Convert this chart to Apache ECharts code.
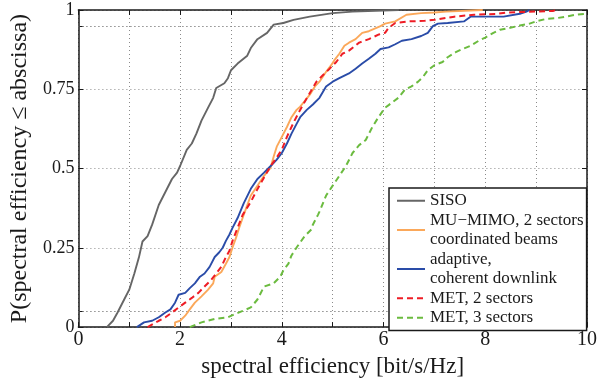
<!DOCTYPE html>
<html>
<head>
<meta charset="utf-8">
<script src="https://cdn.jsdelivr.net/npm/echarts@6/dist/echarts.min.js"></script>
<style>
html,body{margin:0;padding:0;background:#fff;}
#chart{width:600px;height:383px;}
</style>
</head>
<body>
<div id="chart"></div>
<script>
// ---- data (x = spectral efficiency [bit/s/Hz], y = CDF) ----
const seriesNames = [
  'SISO',
  'MU\u2212MIMO, 2 sectors\ncoordinated beams',
  'adaptive,\ncoherent downlink',
  'MET, 2 sectors',
  'MET, 3 sectors'
];
const siso = [[0.56,0],[0.68,0.02],[0.77,0.046],[0.90,0.087],[1.0,0.118],[1.10,0.169],[1.19,0.22],[1.26,0.27],[1.36,0.287],[1.45,0.323],[1.58,0.385],[1.71,0.426],[1.84,0.467],[1.94,0.487],[2.0,0.508],[2.13,0.559],[2.23,0.579],[2.32,0.61],[2.42,0.651],[2.55,0.692],[2.65,0.723],[2.71,0.754],[2.87,0.769],[2.94,0.785],[3.0,0.81],[3.13,0.831],[3.32,0.856],[3.39,0.88],[3.52,0.908],[3.71,0.928],[3.84,0.954],[4.03,0.959],[4.23,0.969],[4.55,0.979],[5.0,0.99],[5.39,0.995],[6.3,1]];
const muMimo = [[1.90,0],[1.90,0.015],[2.0,0.02],[2.10,0.036],[2.19,0.056],[2.29,0.077],[2.42,0.097],[2.55,0.118],[2.65,0.138],[2.68,0.159],[2.81,0.174],[2.90,0.2],[2.97,0.221],[3.03,0.251],[3.10,0.282],[3.16,0.313],[3.25,0.354],[3.39,0.415],[3.52,0.446],[3.65,0.477],[3.78,0.503],[3.84,0.538],[3.90,0.569],[4.0,0.6],[4.10,0.631],[4.19,0.662],[4.29,0.685],[4.36,0.695],[4.45,0.713],[4.55,0.733],[4.65,0.759],[4.74,0.774],[4.87,0.805],[4.97,0.826],[5.03,0.841],[5.13,0.862],[5.23,0.887],[5.32,0.897],[5.45,0.908],[5.58,0.928],[5.71,0.933],[5.94,0.949],[6.03,0.957],[6.23,0.964],[6.45,0.985],[6.74,0.99],[7.0,0.992],[7.23,0.995],[7.95,1]];
const adaptive = [[1.15,0],[1.16,0.005],[1.29,0.015],[1.45,0.02],[1.58,0.031],[1.71,0.046],[1.81,0.056],[1.90,0.077],[1.97,0.102],[2.10,0.108],[2.19,0.123],[2.29,0.138],[2.39,0.159],[2.48,0.169],[2.58,0.19],[2.68,0.221],[2.77,0.236],[2.84,0.251],[2.90,0.272],[2.97,0.292],[3.03,0.313],[3.13,0.344],[3.25,0.39],[3.39,0.436],[3.52,0.467],[3.65,0.487],[3.78,0.508],[3.90,0.528],[4.0,0.549],[4.10,0.579],[4.19,0.61],[4.29,0.641],[4.36,0.662],[4.49,0.685],[4.61,0.702],[4.74,0.723],[4.87,0.759],[5.0,0.774],[5.13,0.785],[5.32,0.8],[5.45,0.815],[5.58,0.831],[5.71,0.846],[5.84,0.862],[5.94,0.877],[6.10,0.882],[6.23,0.892],[6.36,0.903],[6.55,0.908],[6.74,0.918],[6.87,0.928],[6.97,0.949],[7.07,0.957],[7.26,0.959],[7.58,0.964],[7.71,0.979],[8.36,0.979],[8.68,0.988],[8.81,0.995],[8.87,1]];
const met2 = [[1.36,0],[1.39,0.005],[1.58,0.02],[1.71,0.031],[1.84,0.046],[1.97,0.062],[2.10,0.077],[2.23,0.092],[2.36,0.108],[2.48,0.128],[2.61,0.149],[2.71,0.169],[2.81,0.19],[2.90,0.221],[2.97,0.241],[3.03,0.272],[3.13,0.313],[3.23,0.354],[3.39,0.395],[3.52,0.435],[3.65,0.472],[3.78,0.508],[3.90,0.535],[4.0,0.56],[4.10,0.6],[4.23,0.645],[4.36,0.685],[4.42,0.702],[4.55,0.738],[4.68,0.774],[4.81,0.795],[4.94,0.815],[5.07,0.836],[5.19,0.862],[5.32,0.872],[5.52,0.897],[5.71,0.908],[5.91,0.923],[6.03,0.928],[6.10,0.944],[6.23,0.959],[6.49,0.964],[6.81,0.966],[7.0,0.969],[7.39,0.979],[7.78,0.985],[8.23,0.988],[8.42,0.992],[9.33,0.997],[9.4,1]];
const met3 = [[2.19,0],[2.42,0.015],[2.68,0.026],[2.94,0.031],[3.06,0.04],[3.23,0.051],[3.39,0.062],[3.52,0.087],[3.65,0.128],[3.84,0.138],[3.97,0.159],[4.03,0.179],[4.13,0.2],[4.19,0.226],[4.29,0.251],[4.36,0.267],[4.45,0.287],[4.58,0.308],[4.61,0.323],[4.71,0.354],[4.74,0.364],[4.87,0.415],[5.0,0.446],[5.13,0.477],[5.26,0.508],[5.39,0.549],[5.52,0.574],[5.65,0.59],[5.78,0.631],[5.90,0.662],[6.03,0.692],[6.10,0.7],[6.29,0.723],[6.42,0.749],[6.55,0.759],[6.68,0.774],[6.78,0.79],[6.87,0.81],[7.0,0.826],[7.16,0.836],[7.26,0.851],[7.42,0.867],[7.55,0.877],[7.71,0.887],[7.87,0.903],[8.0,0.913],[8.16,0.928],[8.29,0.938],[8.49,0.944],[8.68,0.951],[8.87,0.957],[9.0,0.964],[9.20,0.972],[9.39,0.974],[9.58,0.979],[9.78,0.985],[10,0.988]];

const xLabelValues = [0, 2, 4, 6, 8, 10];
const yLabelValues = [0, 0.25, 0.5, 0.75, 1];
const yTickValues = [0, 0.05, 0.25, 0.5, 0.75, 0.95, 1];
const xTitle = 'spectral efficiency [bit/s/Hz]';
const yTitle = 'P(spectral efficiency \u2264 abscissa)';

// ---- styles ----
const FONT = 'Liberation Serif';
const AX = '#1a1a1a';
const GRIDSTYLE = {color: '#8a8a8a', width: 1, type: [1, 3]};
const axisLine = {show: true, onZero: false, lineStyle: {color: AX, width: 1.5}};
const tick = {show: true, inside: true, length: 5, lineStyle: {color: AX, width: 1}};
const grid = {show: true, lineStyle: GRIDSTYLE};

const chart = echarts.init(document.getElementById('chart'), null, {renderer: 'canvas'});
const colors = ['#666666', '#FBA85A', '#2A4CA8', '#EE1D25', '#6BBB3F'];
const data = [siso, muMimo, adaptive, met2, met3];
const lineTypes = ['solid', 'solid', 'solid', [6, 4], [6, 4]];

// extra horizontal grid lines (tick values that carry no label)
const extraGrid = yTickValues.filter(v => !yLabelValues.includes(v));

const series = seriesNames.map((name, i) => ({
  name, type: 'line', data: data[i],
  xAxisIndex: 0, yAxisIndex: 0,
  showSymbol: false, symbol: 'none',
  lineStyle: {color: colors[i], width: i >= 3 ? 2 : 1.9, type: lineTypes[i]},
  itemStyle: {color: colors[i]},
  z: 3 + i
}));
series[0].markLine = {
  silent: true, symbol: 'none', label: {show: false},
  lineStyle: GRIDSTYLE, z: 1, animation: false,
  data: extraGrid.map(v => ({yAxis: v}))
};

chart.setOption({
  animation: false,
  backgroundColor: '#fff',
  textStyle: {fontFamily: FONT},
  grid: {left: 75, right: 9, top: 10, bottom: 48, containLabel: false},
  xAxis: [
    {
      type: 'value', min: 0, max: 10, interval: 1, position: 'bottom',
      axisLine, axisTick: tick, splitLine: grid,
      axisLabel: {
        color: AX, fontFamily: FONT, fontSize: 20, margin: 3,
        formatter: v => xLabelValues.includes(v) ? String(v) : ''
      },
      name: xTitle, nameLocation: 'middle', nameGap: 18,
      nameTextStyle: {color: AX, fontFamily: FONT, fontSize: 23}
    },
    {
      type: 'value', min: 0, max: 10, interval: 1, position: 'top',
      axisLine, axisTick: tick, splitLine: {show: false}, axisLabel: {show: false}
    }
  ],
  yAxis: [
    {
      type: 'value', min: 0, max: 1, interval: 0.25, position: 'left',
      axisLine,
      axisTick: Object.assign({customValues: yTickValues}, tick),
      splitLine: grid,
      axisLabel: {
        customValues: yLabelValues,
        color: AX, fontFamily: FONT, fontSize: 18, margin: 4,
        formatter: v => String(v)
      },
      name: yTitle, nameLocation: 'middle', nameGap: 39,
      nameTextStyle: {color: AX, fontFamily: FONT, fontSize: 24}
    },
    {
      type: 'value', min: 0, max: 1, interval: 0.25, position: 'right',
      axisLine,
      axisTick: Object.assign({customValues: yTickValues}, tick),
      splitLine: {show: false}, axisLabel: {show: false}
    }
  ],
  legend: {
    orient: 'vertical', left: 389, top: 188,
    itemGap: 0, itemWidth: 28, itemHeight: 12,
    padding: [3, 3, 3, 7],
    itemStyle: {opacity: 0, borderWidth: 0},
    backgroundColor: '#fff', borderColor: AX, borderWidth: 1.5, borderRadius: 0,
    textStyle: {color: AX, fontFamily: FONT, fontSize: 17, lineHeight: 19.5},
    data: seriesNames
  },
  series
});
</script>
</body>
</html>
